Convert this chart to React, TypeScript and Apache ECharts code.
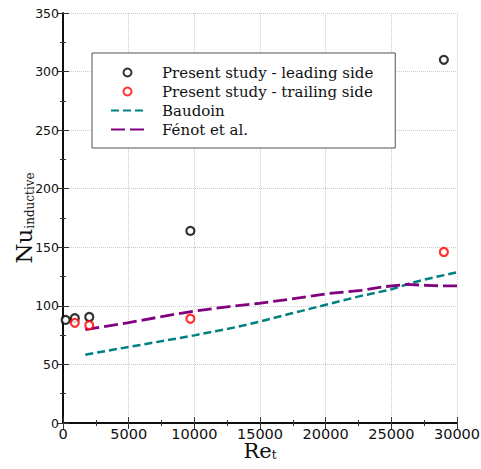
import React, { useEffect, useRef } from "react";
import * as echarts from "echarts";

const leadingRe = [200, 900, 2000, 9700, 29000];
const leadingNu = [88, 89.5, 90.5, 164, 310];
const trailingRe = [900, 2000, 9700, 29000];
const trailingNu = [85.5, 83.5, 89, 146];
const baudoinRe = [1700, 5000, 8200, 10000, 11200, 13300, 15000, 17200, 18100, 20100, 22700, 25000, 26500, 27800, 30000];
const baudoinNu = [58.3, 64.9, 71.2, 74.8, 77.5, 82.1, 86.6, 93, 95.5, 101.2, 108.5, 114.1, 119.5, 123.2, 128.6];
const fenotRe = [1700, 4900, 7400, 9950, 12500, 14800, 17200, 18100, 20100, 22700, 24500, 26200, 28200, 30000];
const fenotNu = [79.8, 85.5, 90.6, 95.5, 99.2, 102, 105.5, 107, 110.4, 113.2, 116.4, 118.3, 117.2, 117];
const seriesNames = [
  "Present study - leading side",
  "Present study - trailing side",
  "Baudoin",
  "Fénot et al.",
];

const SERIF = "DejaVu Serif";
const SANS = "DejaVu Sans";

const zip = (a: number[], b: number[]) => a.map((v, i) => [v, b[i]]);

export default function App() {
  const ref = useRef<HTMLDivElement>(null);
  useEffect(() => {
    if (!ref.current) return;
    const chart = echarts.init(ref.current, undefined, { renderer: "svg" });
    const axisLine = { show: true, lineStyle: { color: "#000", width: 1.5 } };
    const tick = { show: true, inside: true, length: 6, lineStyle: { color: "#333", width: 1 } };
    const minorTick = { show: true, splitNumber: 2, length: 3, lineStyle: { color: "#333", width: 1 } };
    chart.setOption({
      animation: false,
      backgroundColor: "#fff",
      textStyle: { fontFamily: SERIF },
      grid: { left: 63, right: 24, top: 13, bottom: 46, containLabel: false, outerBoundsMode: "none" },
      legend: {
        show: true,
        orient: "vertical",
        left: 92,
        top: 53,
        backgroundColor: "#fff",
        borderColor: "#555",
        borderWidth: 1,
        padding: [12, 22, 11, 18],
        itemGap: 4,
        itemWidth: 33,
        itemHeight: 8,
        textStyle: { fontFamily: SERIF, fontSize: 15, color: "#111", padding: [0, 0, 0, 13] },
        data: [
          { name: seriesNames[0] },
          { name: seriesNames[1] },
          { name: seriesNames[2], itemStyle: { opacity: 0 } },
          { name: seriesNames[3], itemStyle: { opacity: 0 } },
        ],
      },
      xAxis: [
        {
          type: "value",
          min: 0,
          max: 30000,
          interval: 5000,
          axisLine,
          axisTick: tick,
          minorTick,
          axisLabel: { fontFamily: SANS, fontSize: 14.5, lineHeight: 14, color: "#111", margin: 4, formatter: (v: number) => String(v) },
          splitLine: { show: true, lineStyle: { color: "#ccc", type: "dotted", width: 1 } },
          name: "{a|Re}{b|t}",
          nameLocation: "middle",
          nameMoveOverlap: false,
          nameGap: 21,
          nameTextStyle: {
            rich: {
              a: { fontFamily: SERIF, fontSize: 21, lineHeight: 17, color: "#111", verticalAlign: "bottom" },
              b: { fontFamily: SERIF, fontSize: 12, lineHeight: 12, color: "#111", verticalAlign: "bottom" },
            },
          },
        },
        {
          type: "value",
          position: "top",
          min: 0,
          max: 30000,
          interval: 5000,
          axisLine,
          axisTick: tick,
          minorTick,
          axisLabel: { show: false },
          splitLine: { show: false },
        },
      ],
      yAxis: [
        {
          type: "value",
          min: 0,
          max: 350,
          interval: 50,
          axisLine,
          axisTick: tick,
          minorTick,
          axisLabel: { fontFamily: SANS, fontSize: 12.5, color: "#111", margin: 4, formatter: (v: number) => String(v) },
          splitLine: { show: true, lineStyle: { color: "#ccc", type: "dotted", width: 1 } },
          name: "{a|Nu}{b|inductive}",
          nameLocation: "middle",
          nameMoveOverlap: false,
          nameRotate: 90,
          nameGap: 28,
          nameTextStyle: {
            rich: {
              a: { fontFamily: SERIF, fontSize: 23, color: "#111", verticalAlign: "bottom" },
              b: { fontFamily: SERIF, fontSize: 12, color: "#111", verticalAlign: "bottom", padding: [0, 0, -1, 0] },
            },
          },
        },
        {
          type: "value",
          position: "right",
          min: 0,
          max: 350,
          interval: 50,
          axisLine,
          axisTick: tick,
          minorTick,
          axisLabel: { show: false },
          splitLine: { show: false },
        },
      ],
      series: [
        {
          name: seriesNames[0],
          type: "scatter",
          data: zip(leadingRe, leadingNu),
          symbol: "circle",
          symbolSize: 8,
          itemStyle: { color: "#fff", borderColor: "#000", borderWidth: 2.2 },
          z: 5,
        },
        {
          name: seriesNames[1],
          type: "scatter",
          data: zip(trailingRe, trailingNu),
          symbol: "circle",
          symbolSize: 8,
          itemStyle: { color: "#fff", borderColor: "#ff0000", borderWidth: 2.2 },
          z: 5,
        },
        {
          name: seriesNames[2],
          type: "line",
          data: zip(baudoinRe, baudoinNu),
          showSymbol: false,
          symbol: "none",
          color: "#008080",
          lineStyle: { color: "#008080", width: 2.5, type: [8, 4] },
          itemStyle: { color: "#008080" },
        },
        {
          name: seriesNames[3],
          type: "line",
          data: zip(fenotRe, fenotNu),
          showSymbol: false,
          symbol: "none",
          color: "#800080",
          lineStyle: { color: "#800080", width: 2.8, type: [14, 5] },
          itemStyle: { color: "#800080" },
        },
      ],
    });
    return () => chart.dispose();
  }, []);
  return <div ref={ref} style={{ width: 481, height: 469, position: "absolute", left: 0, top: 0 }} />;
}
